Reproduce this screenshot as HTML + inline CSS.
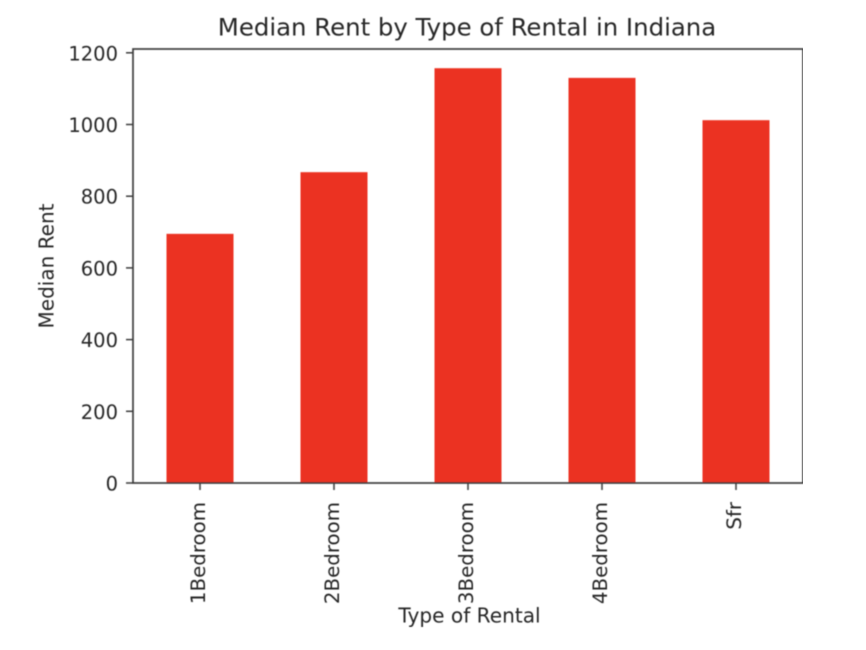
<!DOCTYPE html>
<html lang="en">
<head>
<meta charset="utf-8">
<title>Median Rent by Type of Rental in Indiana</title>
<style>
html,body{margin:0;padding:0;background:#fff;width:866px;height:650px;overflow:hidden}
svg{display:block}
text{font-family:"DejaVu Sans","Liberation Sans",sans-serif;fill:#262626}
</style>
</head>
<body>
<svg id="chart" width="866" height="650" viewBox="0 0 866 650" xmlns="http://www.w3.org/2000/svg">
  <g id="root" filter="url(#soft)">
    <text x="467" y="35.500" text-anchor="middle" font-size="24.400">Median Rent by Type of Rental in Indiana</text>
    <text x="469.500" y="622.500" text-anchor="middle" font-size="20.100">Type of Rental</text>
    <text transform="translate(53.500,266) rotate(-90)" text-anchor="middle" font-size="20">Median Rent</text>
    <g id="bars"></g>
    <g id="ticks"></g>
    <rect x="133" y="49" width="670" height="434" fill="none" stroke="#3c3c3c" stroke-width="1.700"></rect>
  </g>
  <defs>
    <filter id="soft" x="0" y="0" width="100%" height="100%"><feGaussianBlur stdDeviation="0.45"></feGaussianBlur></filter>
  </defs>
</svg>
<script>
const categories = ['1Bedroom', '2Bedroom', '3Bedroom', '4Bedroom', 'Sfr'];
const medianRent = [695, 867, 1157, 1130, 1012];
const yTicks = [0, 200, 400, 600, 800, 1000, 1200];

const NS = 'http://www.w3.org/2000/svg';
const plot = { left: 133, right: 803, top: 49, bottom: 483 };
const yMax = (plot.bottom - plot.top) / 0.3585;
const barWidthFraction = 0.5;
const step = (plot.right - plot.left) / categories.length;

function xScale(i) { return plot.left + step * (i + 0.5); }
function yScale(v) { return plot.bottom - (v / yMax) * (plot.bottom - plot.top); }

function make(tag, attrs, parent) {
  const el = document.createElementNS(NS, tag);
  for (const k in attrs) el.setAttribute(k, attrs[k]);
  parent.appendChild(el);
  return el;
}

const barsG = document.getElementById('bars');
const ticksG = document.getElementById('ticks');

medianRent.forEach(function (v, i) {
  const w = step * barWidthFraction;
  const bar = make('rect', { x: xScale(i) - w / 2, y: yScale(v), width: w, height: plot.bottom - yScale(v), fill: '#eb3322' }, barsG);
  
  
});

categories.forEach(function (c, i) {
  const x = xScale(i);
  const tick = make('line', { x1: x, x2: x, y1: plot.bottom, y2: plot.bottom + 7, stroke: '#3c3c3c', 'stroke-width': 1.500 }, ticksG);
  
  
  const label = make('text', { transform: 'translate(' + (x + 5) + ',' + (plot.bottom + 19) + ') rotate(-90)', 'text-anchor': 'end', 'font-size': 19.800 }, ticksG);
  label.textContent = c;
  
  
});

yTicks.forEach(function (t) {
  const y = yScale(t);
  const tick = make('line', { x1: plot.left - 7, x2: plot.left, y1: y, y2: y, stroke: '#3c3c3c', 'stroke-width': 1.500 }, ticksG);
  
  
  const label = make('text', { x: plot.left - 15, y: y + 7.500, 'text-anchor': 'end', 'font-size': 19.500 }, ticksG);
  label.textContent = String(t);
  
  
});
</script>
</body>
</html>
